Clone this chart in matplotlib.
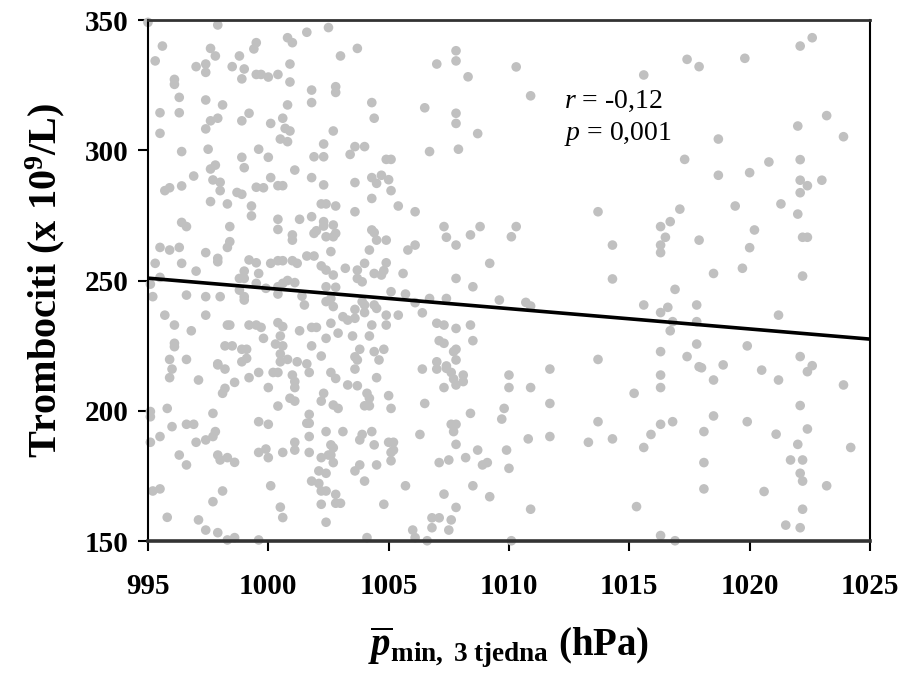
import matplotlib
matplotlib.use('Agg')
import matplotlib.pyplot as plt

plt.rcParams.update({'font.family': 'Liberation Serif', 'font.weight': 'bold',
                     'mathtext.fontset': 'custom', 'mathtext.rm': 'Liberation Serif:normal',
                     'mathtext.it': 'Liberation Serif:italic:normal', 'mathtext.bf': 'Liberation Serif:bold',
                     'mathtext.bfit': 'Liberation Serif:bold:italic'})

# mean minimal pressure over 3 weeks (hPa) and platelet count (x10^9/L)
p_min = [
    995.0, 997.9, 995.6, 995.3, 997.6, 997.8, 997.0, 997.4, 997.4, 999.5, 999.4, 998.8, 998.5, 999.0, 998.9,
    999.5, 999.7, 1000.0, 1000.4, 1000.9, 1000.9, 1000.8, 1001.0, 1001.6, 1002.5, 1001.8, 1001.8, 996.1, 996.1,
    996.3, 997.4, 998.1, 995.5, 996.3, 999.2, 997.6, 997.9, 998.9, 997.4, 1000.1, 1000.6, 1000.7, 1000.9, 1000.8,
    1000.5, 1000.8, 995.5, 1002.3, 996.4, 997.5, 999.6, 998.9, 1000.0, 1001.9, 1002.3, 997.6, 997.8, 999.0,
    1001.1, 996.9, 997.7, 998.0, 1000.1, 1001.8, 995.7, 995.9, 996.4, 998.0, 998.7, 998.9, 999.5, 999.8, 1000.4,
    1000.6, 1002.3,
    1003.7, 1003.0, 1007.8, 1007.8, 1007.0, 1008.3, 1002.8, 1002.8, 1004.3, 1004.4, 1006.5, 1007.8, 1007.8,
    1002.7, 1008.7, 1003.6, 1004.0, 1003.4, 1006.7, 1007.9, 1004.9, 1005.1, 1003.6, 1004.3, 1004.5, 1004.7,
    1005.0, 1005.1,
    1010.3, 1010.9, 1015.6, 1017.4, 1017.9, 1017.3,
    1019.8, 1022.1, 1022.6, 1018.7, 1022.0, 1023.2, 1023.9, 1020.8, 1022.1, 1018.7, 1020.0, 1022.1, 1022.4,
    1023.0, 1022.1,
    997.6, 998.3, 999.3, 999.3, 1002.2, 1002.4, 996.4, 996.6, 998.4, 1000.4, 1000.4, 1001.3, 1001.8, 1002.3,
    1002.3, 1001.0, 1001.0, 1001.9, 1002.0, 1002.4, 998.4, 998.3, 995.5, 995.9, 996.3, 997.4, 997.9, 997.9,
    995.3, 996.4, 999.2, 999.5, 1000.1, 1000.4, 1000.6, 1001.0, 1001.2, 1001.6, 1001.9, 1002.2, 1002.4, 997.0,
    999.0, 999.0, 999.6, 998.8, 995.1, 995.5, 999.5, 999.9, 1000.4, 1000.6, 1000.8, 1001.1, 1000.4, 998.8,
    995.2, 996.6, 997.4, 998.0, 999.0, 999.0, 1001.4, 1001.5, 1002.4, 1002.4, 995.7, 997.4, 996.1, 996.8,
    998.3, 998.4, 999.2, 999.5, 999.7, 1000.4, 1000.6, 1000.5, 999.8, 1001.3, 1001.8, 1002.0, 1002.4, 996.1,
    996.1, 998.2, 998.5, 998.9, 999.1, 1000.3, 1000.6, 1001.8, 995.9, 996.6, 997.9, 998.9, 999.1, 1000.5,
    1000.5, 1000.8, 1001.2, 1001.6, 1002.2,
    1002.8, 1003.6, 1004.3, 1005.4, 1006.1, 1002.7, 1002.8, 1002.7, 1004.3, 1004.4, 1004.5, 1004.9, 1004.2,
    1005.8, 1006.1, 1007.3, 1007.4, 1007.8, 1008.4, 1008.8, 1010.1, 1002.6, 1003.2, 1003.7, 1004.0, 1003.7,
    1003.9, 1004.4, 1004.7, 1004.9, 1004.8, 1005.6, 1005.1, 1005.7, 1002.7, 1002.8, 1002.6, 1002.7, 1006.1,
    1006.7, 1007.4, 1006.4, 1007.8, 1008.5, 1009.2, 1009.6, 1003.9, 1004.0, 1004.4, 1004.5, 1003.6, 1004.0,
    1004.9, 1005.4, 1003.1, 1003.3, 1003.6, 1002.6, 1002.9, 1003.5, 1004.2, 1004.3, 1004.9, 1007.0, 1007.3,
    1007.8, 1008.4, 1007.1, 1007.3, 1008.5, 1003.8, 1004.4, 1004.8, 1003.6, 1003.7, 1004.6, 1007.7, 1007.8,
    1007.8, 1007.0, 1007.4,
    1010.3, 1013.7, 1014.3, 1014.3, 1016.3, 1016.7, 1017.1, 1016.5, 1016.3, 1016.3, 1017.9, 1016.9, 1015.6,
    1010.7, 1010.9, 1016.6, 1016.3, 1016.8, 1016.7, 1017.8, 1017.8, 1017.8, 1016.3, 1017.4, 1013.7,
    1019.4, 1021.3, 1022.0, 1020.2, 1020.0, 1022.2, 1022.4, 1018.5, 1019.7, 1022.2, 1021.2, 1019.9, 1022.1,
    996.0, 995.9, 997.1, 997.9, 998.2, 998.1, 998.2, 998.6, 999.2, 999.6, 1000.2, 1000.4, 1001.0, 1001.1,
    1001.1, 1000.0, 1001.7, 1000.9, 1001.1, 1000.4, 1002.3, 1002.2, 995.1, 995.1, 995.8, 997.7, 996.6, 996.9,
    996.0, 999.6, 1000.0, 1001.7, 1001.6, 1001.7, 1001.7, 1002.4, 995.5, 995.1, 997.0, 997.4, 997.7, 997.8,
    1001.1, 1001.1, 999.6, 999.9, 1000.0, 1000.6, 1001.7, 1002.2, 1002.5, 996.3, 996.6, 997.9, 998.0, 998.3,
    998.6, 1002.1, 1002.4, 1001.8, 1002.1, 1002.2, 1002.4, 995.2, 995.5, 998.1, 1000.1, 997.7, 1002.2, 1000.5,
    1000.6, 995.8, 997.1, 1002.4, 997.4, 997.9, 998.3, 998.6, 999.6,
    1002.6, 1002.8, 1003.6, 1004.5, 1003.3, 1003.7, 1004.1, 1004.2, 1004.2, 1004.0, 1005.0, 1005.1, 1002.7,
    1002.9, 1006.5, 1006.4, 1007.0, 1007.4, 1007.6, 1007.7, 1007.8, 1008.1, 1008.1, 1007.3, 1010.0, 1010.0,
    1008.4, 1009.8, 1009.7, 1007.6, 1007.8, 1007.7, 1006.3, 1003.1, 1003.9, 1003.8, 1004.3, 1004.4, 1005.0,
    1005.2, 1005.1, 1005.2, 1005.1, 1002.6, 1002.7, 1002.6, 1002.7, 1004.5, 1003.6, 1003.8, 1004.0, 1007.8,
    1008.7, 1008.2, 1007.1, 1007.5, 1008.9, 1009.1, 1009.9, 1010.0, 1005.7, 1008.5, 1007.3, 1009.2, 1007.8,
    1002.8, 1002.8, 1003.0, 1004.8, 1006.8, 1007.1, 1007.6, 1006.8, 1006.0, 1006.1, 1007.5, 1006.6, 1004.1,
    1010.1,
    1011.7, 1010.9, 1011.7, 1010.8, 1011.7, 1013.7, 1013.3, 1014.3, 1015.2, 1016.3, 1016.3, 1016.3, 1016.8,
    1015.9, 1015.6, 1017.9, 1010.9, 1015.3, 1016.3, 1016.9,
    1018.0, 1018.9, 1020.5, 1022.4, 1022.6, 1018.5, 1021.2, 1023.9, 1022.1, 1018.5, 1019.9, 1018.1, 1021.1,
    1022.4, 1022.0, 1024.2, 1018.1, 1021.7, 1022.2, 1022.1, 1022.2, 1023.2, 1018.1, 1020.6, 1022.2, 1021.5,
    1022.1,
]
trombociti = [
    349.1, 348.1, 340.0, 334.3, 339.1, 336.2, 332.1, 333.1, 329.9, 341.3, 338.9, 336.2, 332.1, 331.2, 327.4,
    329.1, 329.1, 328.1, 329.1, 333.1, 326.2, 343.2, 341.3, 345.3, 347.1, 323.1, 318.3, 327.2, 325.3,
    320.3, 319.3, 317.4, 314.4, 314.4, 314.2, 311.3, 312.3, 311.3, 308.2, 310.3, 312.3, 308.4, 307.4, 317.4,
    304.3, 303.3, 306.5, 302.4, 299.5, 300.4, 300.4, 297.3, 297.3, 297.5, 297.5, 292.8, 294.3, 293.3,
    292.4, 290.1, 288.6, 287.7, 289.5, 289.5, 284.5, 285.6, 286.3, 284.5, 283.8, 283.1, 285.8, 285.6, 286.4,
    286.4, 286.7,
    339.1, 336.2, 338.2, 334.3, 333.1, 328.2, 324.4, 322.2, 318.3, 312.3, 316.3, 314.2, 310.3,
    307.4, 306.4, 301.4, 301.4, 298.4, 299.5, 300.4, 296.5, 296.5, 287.6, 289.5, 287.3, 290.4,
    288.7, 284.5,
    332.0, 320.9, 328.9, 334.9, 332.1, 296.5,
    335.3, 340.0, 343.2, 304.3, 309.3, 313.3, 305.2, 295.5, 296.4, 290.4, 291.4, 288.5, 286.4,
    288.5, 283.7,
    280.3, 279.4, 278.6, 274.8, 279.4, 279.4, 272.3, 270.7, 270.7, 273.5, 269.6, 273.5, 274.5, 272.6,
    270.9, 267.5, 265.5, 268.1, 269.1, 266.8, 264.9, 262.7, 262.7, 261.7, 262.7, 260.7, 258.5, 257.2,
    256.6, 256.6, 257.9, 256.8, 256.6, 257.6, 257.6, 257.6, 256.6, 259.4, 259.4, 255.6, 254.0, 253.6,
    253.6, 250.8, 252.7, 250.8, 248.6, 251.2, 248.9, 247.0, 247.6, 248.9, 250.0, 249.2, 244.8, 246.3,
    243.8, 244.4, 243.8, 243.8, 243.8, 242.5, 244.0, 240.6, 247.6, 241.9, 236.7, 236.7, 232.9, 230.7,
    232.9, 232.9, 232.9, 232.9, 232.0, 233.8, 232.3, 228.7, 227.8, 230.7, 232.0, 232.0, 227.8, 225.9,
    224.6, 224.9, 224.9, 223.6, 223.6, 225.6, 224.9, 224.9, 219.7, 219.7, 218.0, 218.8, 220.1, 221.8,
    218.8, 219.7, 218.8, 218.0, 221.0,
    278.6, 276.4, 281.5, 278.6, 276.4, 271.3, 268.1, 266.8, 269.4, 268.4, 265.5, 265.5, 261.7,
    261.7, 263.6, 270.7, 266.6, 263.6, 267.5, 270.7, 266.8, 261.1, 254.7, 254.0, 256.6, 250.8,
    249.5, 252.7, 252.1, 256.8, 253.8, 252.7, 245.7, 244.8, 252.1, 247.4, 243.1, 240.0, 241.5,
    243.1, 243.1, 237.6, 250.8, 247.6, 256.6, 242.5, 241.9, 240.6, 240.6, 239.3, 238.9, 237.7,
    236.7, 236.7, 236.1, 234.8, 235.5, 233.6, 229.8, 228.7, 228.7, 232.9, 232.9, 233.6, 232.9,
    231.6, 232.9, 226.9, 225.9, 226.9, 223.6, 222.7, 223.6, 220.7, 219.5, 219.5, 222.7, 223.6,
    219.5, 218.8, 217.2,
    270.7, 276.4, 263.6, 250.6, 270.7, 272.6, 277.4, 266.6, 263.6, 260.7, 265.5, 246.6, 240.6,
    241.6, 240.2, 239.7, 237.7, 234.2, 230.7, 240.6, 234.2, 225.6, 222.7, 220.8, 219.7,
    278.6, 279.4, 275.5, 269.4, 262.6, 266.6, 266.6, 252.7, 254.7, 251.7, 236.7, 224.9, 220.8,
    216.0, 212.7, 211.8, 217.6, 216.0, 206.7, 208.6, 210.9, 212.7, 214.7, 214.7, 214.7, 213.7, 211.2,
    208.9, 208.9, 214.7, 204.8, 203.7, 201.8, 206.7, 203.7, 199.7, 197.7, 200.9, 199.0, 194.8, 194.8,
    193.9, 195.8, 194.8, 198.6, 195.2, 195.2, 190.1, 192.0, 190.1, 187.9, 187.9, 188.8, 190.1, 192.0,
    187.9, 184.9, 184.0, 185.3, 182.0, 184.0, 184.0, 182.0, 183.0, 183.0, 179.2, 183.0, 181.1, 182.0,
    180.2, 176.9, 176.0, 173.0, 172.1, 169.2, 169.2, 169.2, 170.0, 169.2, 171.2, 165.1, 164.1, 163.0,
    159.0, 159.1, 158.1, 157.2, 154.2, 153.2, 150.4, 151.3, 150.4,
    214.7, 212.4, 216.0, 212.7, 209.9, 209.6, 206.7, 204.8, 201.9, 201.9, 205.8, 200.9, 202.2,
    200.9, 202.8, 216.0, 216.0, 216.3, 214.7, 212.2, 209.9, 213.7, 211.2, 208.9, 213.7, 208.9,
    199.0, 200.9, 196.8, 194.8, 194.8, 192.0, 190.9, 192.0, 190.9, 188.8, 192.0, 186.9, 187.9,
    187.9, 184.0, 184.9, 180.8, 186.9, 185.8, 183.0, 180.1, 179.2, 176.9, 179.2, 173.0, 187.1,
    184.9, 182.0, 180.1, 181.1, 179.2, 180.1, 184.9, 177.9, 171.2, 171.2, 168.0, 167.0, 162.9,
    167.9, 164.5, 164.5, 164.1, 158.9, 158.9, 158.1, 155.1, 154.2, 151.3, 154.2, 150.1, 151.3,
    150.1,
    216.0, 208.9, 202.8, 189.2, 190.1, 195.8, 187.9, 189.2, 206.7, 213.7, 208.9, 194.8, 195.8,
    190.9, 185.9, 216.9, 162.2, 163.2, 152.1, 150.1,
    216.5, 217.6, 215.6, 215.0, 217.3, 211.8, 211.8, 209.9, 202.0, 198.0, 195.8, 192.0, 191.0,
    193.0, 187.1, 185.9, 180.1, 181.1, 181.1, 176.0, 173.0, 171.2, 170.0, 169.0, 162.2, 156.1,
    155.1,
]

# regression line end points
line_x = [995, 1025]
line_y = [250.9, 227.5]

x_ticks = [995, 1000, 1005, 1010, 1015, 1020, 1025]
y_ticks = [150, 200, 250, 300, 350]

fig = plt.figure(figsize=(9.05, 6.76), dpi=100)
ax = fig.add_axes([0.1635, 0.1997, 0.7978, 0.7707])

ax.scatter(p_min, trombociti, s=48, color='#c0c0c0', edgecolors='none', zorder=2, clip_on=False)
ax.plot(line_x, line_y, color='black', lw=2.6, zorder=3)

ax.set_xlim(995, 1025)
ax.set_ylim(150, 350)
ax.set_xticks(x_ticks)
ax.set_yticks(y_ticks)
ax.tick_params(direction='out', length=7, width=1.5, labelsize=21, colors='black')
ax.tick_params(axis='x', pad=16)
ax.tick_params(axis='y', pad=7)
for lab in ax.get_xticklabels() + ax.get_yticklabels():
    lab.set_fontweight('bold')

ax.spines['bottom'].set_linewidth(2.6)
ax.spines['bottom'].set_color('#333333')
ax.spines['top'].set_linewidth(2.0)
ax.spines['top'].set_color('#333333')
ax.spines['left'].set_linewidth(1.5)
ax.spines['right'].set_linewidth(1.5)

ax.set_ylabel(r'Trombociti (x 10$^{\mathbf{9}}$/L)', fontsize=29, fontweight='bold', labelpad=13)
ax.set_xlabel(r'$\overline{\mathbfit{p}}_{\mathbf{min,\ 3\ tjedna}}$ (hPa)', fontsize=28,
              fontweight='bold', labelpad=18)

ax.text(1012.3, 316.2, r'$r$ = -0,12', fontsize=20, fontweight='normal', va='baseline')
ax.text(1012.3, 303.9, r'$p$ = 0,001', fontsize=20, fontweight='normal', va='baseline')

fig.savefig('out.png', dpi=100)
